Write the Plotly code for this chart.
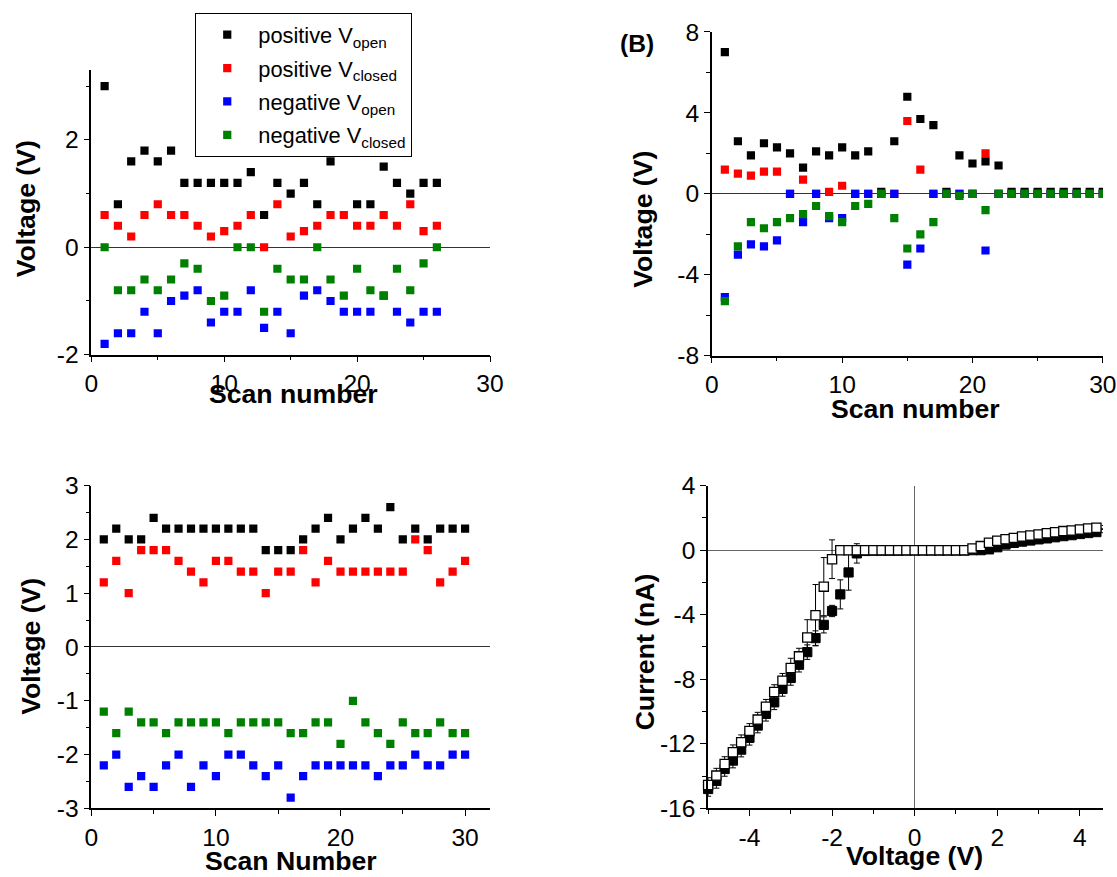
import plotly.graph_objects as go

# ---------------- data ----------------
scan_a = [1, 2, 3, 4, 5, 6, 7, 8, 9, 10, 11, 12, 13, 14, 15, 16, 17, 18, 19, 20, 21, 22, 23, 24, 25, 26]
a_pos_open = [3.0, 0.8, 1.6, 1.8, 1.6, 1.8, 1.2, 1.2, 1.2, 1.2, 1.2, 1.4, 0.6, 1.2, 1.0, 1.2, 0.8, 1.6, 1.8, 0.8, 0.8, 1.5, 1.2, 1.0, 1.2, 1.2]
a_pos_closed = [0.6, 0.4, 0.2, 0.6, 0.8, 0.6, 0.6, 0.4, 0.2, 0.3, 0.4, 0.6, 0.0, 0.8, 0.2, 0.3, 0.4, 0.6, 0.6, 0.4, 0.4, 0.6, 0.4, 0.8, 0.3, 0.4]
a_neg_open = [-1.8, -1.6, -1.6, -1.2, -1.6, -1.0, -0.9, -0.8, -1.4, -1.2, -1.2, -0.8, -1.5, -1.2, -1.6, -0.9, -0.8, -1.0, -1.2, -1.2, -1.2, -0.9, -1.2, -1.4, -1.2, -1.2]
a_neg_closed = [0.0, -0.8, -0.8, -0.6, -0.8, -0.6, -0.3, -0.4, -1.0, -0.9, 0.0, 0.0, -1.2, -0.4, -0.6, -0.6, 0.0, -0.6, -0.9, -0.4, -0.8, -0.9, -0.4, -0.8, -0.3, 0.0]

scan_b = [1, 2, 3, 4, 5, 6, 7, 8, 9, 10, 11, 12, 13, 14, 15, 16, 17, 18, 19, 20, 21, 22, 23, 24, 25, 26, 27, 28, 29, 30]
b_pos_open = [7.0, 2.6, 1.9, 2.5, 2.3, 2.0, 1.3, 2.1, 1.9, 2.3, 1.9, 2.1, 0.1, 2.6, 4.8, 3.7, 3.4, 0.1, 1.9, 1.5, 1.6, 1.4, 0.1, 0.1, 0.1, 0.1, 0.1, 0.1, 0.1, 0.1]
b_pos_closed = [1.2, 1.0, 0.9, 1.1, 1.1, 0.0, 0.7, 0.0, 0.1, 0.4, 0.0, 0.0, 0.0, 0.0, 3.6, 1.2, 0.0, 0.0, 0.0, 0.0, 2.0, 0.0, 0.0, 0.0, 0.0, 0.0, 0.0, 0.0, 0.0, 0.0]
b_neg_open = [-5.1, -3.0, -2.5, -2.6, -2.3, 0.0, -1.4, 0.0, -1.2, -1.2, 0.0, 0.0, 0.0, 0.0, -3.5, -2.7, 0.0, 0.0, 0.0, 0.0, -2.8, 0.0, 0.0, 0.0, 0.0, 0.0, 0.0, 0.0, 0.0, 0.0]
b_neg_closed = [-5.3, -2.6, -1.4, -1.7, -1.4, -1.2, -1.0, -0.6, -1.1, -1.4, -0.6, -0.5, 0.0, -1.2, -2.7, -2.0, -1.4, 0.0, -0.1, 0.0, -0.8, 0.0, 0.0, 0.0, 0.0, 0.0, 0.0, 0.0, 0.0, 0.0]

scan_c = [1, 2, 3, 4, 5, 6, 7, 8, 9, 10, 11, 12, 13, 14, 15, 16, 17, 18, 19, 20, 21, 22, 23, 24, 25, 26, 27, 28, 29, 30]
c_pos_open = [2.0, 2.2, 2.0, 2.0, 2.4, 2.2, 2.2, 2.2, 2.2, 2.2, 2.2, 2.2, 2.2, 1.8, 1.8, 1.8, 2.0, 2.2, 2.4, 2.0, 2.2, 2.4, 2.2, 2.6, 2.0, 2.2, 2.0, 2.2, 2.2, 2.2]
c_pos_closed = [1.2, 1.6, 1.0, 1.8, 1.8, 1.8, 1.6, 1.4, 1.2, 1.6, 1.6, 1.4, 1.4, 1.0, 1.4, 1.4, 1.8, 1.2, 1.6, 1.4, 1.4, 1.4, 1.4, 1.4, 1.4, 2.0, 1.8, 1.2, 1.4, 1.6]
c_neg_open = [-2.2, -2.0, -2.6, -2.4, -2.6, -2.2, -2.0, -2.6, -2.2, -2.4, -2.0, -2.0, -2.2, -2.4, -2.2, -2.8, -2.4, -2.2, -2.2, -2.2, -2.2, -2.2, -2.4, -2.2, -2.2, -2.0, -2.2, -2.2, -2.0, -2.0]
c_neg_closed = [-1.2, -1.6, -1.2, -1.4, -1.4, -1.6, -1.4, -1.4, -1.4, -1.4, -1.6, -1.4, -1.4, -1.4, -1.4, -1.6, -1.6, -1.4, -1.4, -1.8, -1.0, -1.4, -1.6, -1.8, -1.4, -1.6, -1.6, -1.4, -1.6, -1.6]

iv_voltage = [-5.0, -4.8, -4.6, -4.4, -4.2, -4.0, -3.8, -3.6, -3.4, -3.2, -3.0, -2.8, -2.6, -2.4, -2.2, -2.0, -1.8,
              -1.6, -1.4, -1.2, -1.0, -0.8, -0.6, -0.4, -0.2, 0.0, 0.2, 0.4, 0.6, 0.8, 1.0, 1.2, 1.4, 1.6, 1.8,
              2.0, 2.2, 2.4, 2.6, 2.8, 3.0, 3.2, 3.4, 3.6, 3.8, 4.0, 4.2, 4.4, 4.6, 4.8, 5.0]
iv_filled = [-14.8, -14.3, -13.56, -13.04, -12.36, -11.63, -10.87, -10.14, -9.43, -8.6, -7.92, -7.1, -6.32, -5.45, -4.63, -3.77, -2.74,
             -1.38, -0.2, -0.05, -0.03, -0.03, -0.03, -0.03, -0.02, -0.02, -0.02, -0.02, -0.02, -0.02, -0.02, -0.02, 0.0, 0.0, 0.05,
             0.18, 0.35, 0.45, 0.53, 0.6, 0.67, 0.73, 0.8, 0.87, 0.93, 1.0, 1.06, 1.12, 1.18, 1.25, 1.32]
iv_filled_err = [0.45, 0.45, 0.45, 0.45, 0.45, 0.45, 0.45, 0.45, 0.45, 0.45, 0.45, 0.45, 0.45, 0.45, 0.5, 0.35, 0.9,
                 1.1, 0.6, 0.15, 0.05, 0.05, 0.05, 0.05, 0.05, 0.05, 0.05, 0.05, 0.05, 0.05, 0.05, 0.05, 0.05, 0.05, 0.08,
                 0.1, 0.1, 0.1, 0.1, 0.1, 0.1, 0.1, 0.1, 0.1, 0.1, 0.1, 0.1, 0.1, 0.1, 0.1, 0.1]
iv_open = [-14.55, -13.97, -13.25, -12.52, -11.9, -11.2, -10.5, -9.7, -8.79, -8.09, -7.3, -6.58, -5.41, -4.03, -2.26, -0.56, 0.0,
           0.0, 0.0, 0.0, 0.0, 0.0, 0.0, 0.0, 0.0, 0.0, 0.0, 0.0, 0.0, 0.0, 0.0, 0.0, 0.1, 0.25, 0.46,
           0.58, 0.68, 0.76, 0.85, 0.91, 0.97, 1.05, 1.11, 1.18, 1.22, 1.28, 1.34, 1.39, 1.43, 1.47, 1.55]
iv_open_err = [0.45, 0.45, 0.45, 0.45, 0.45, 0.45, 0.45, 0.45, 0.45, 0.45, 0.6, 0.5, 1.1, 1.9, 1.8, 1.2, 0.1,
               0.1, 0.1, 0.05, 0.05, 0.05, 0.05, 0.05, 0.05, 0.05, 0.05, 0.05, 0.05, 0.05, 0.05, 0.05, 0.05, 0.1, 0.1,
               0.1, 0.1, 0.1, 0.1, 0.1, 0.1, 0.1, 0.1, 0.1, 0.1, 0.1, 0.1, 0.1, 0.1, 0.1, 0.1]

series_names = ["positive V<sub>open</sub>", "positive V<sub>closed</sub>",
                "negative V<sub>open</sub>", "negative V<sub>closed</sub>"]
series_colors = ["#000000", "#FF0000", "#0000FF", "#008000"]

# tick labels (hyphen minus as in the reference)
scan_ticks = [0, 10, 20, 30]
scan_minor = [0, 5, 10, 15, 20, 25, 30]
a_yticks = [-2, 0, 2]
a_yminor = [-2, -1, 0, 1, 2, 3]
b_yticks = [-8, -4, 0, 4, 8]
b_yminor = [-8, -6, -4, -2, 0, 2, 4, 6, 8]
c_yticks = [-3, -2, -1, 0, 1, 2, 3]
c_yminor = [-3, -2.5, -2, -1.5, -1, -0.5, 0, 0.5, 1, 1.5, 2, 2.5, 3]
iv_xticks = [-4, -2, 0, 2, 4]
iv_xminor = [-5, -4, -3, -2, -1, 0, 1, 2, 3, 4, 5]
iv_yticks = [-16, -12, -8, -4, 0, 4]
iv_yminor = [-16, -14, -12, -10, -8, -6, -4, -2, 0, 2, 4]

# ---------------- figure ----------------
W, H = 1117, 877
FONT = "Liberation Sans, Arial, sans-serif"
# the captured picture is the page slightly shrunk and shifted; pre-compensate
SX, OX = 0.982, 5.6
SY, OY = 0.970, 14.0
FS = 1.0 / 0.976  # font / marker size compensation

def page_x(r):
    return (r - OX) / SX

def page_y(r):
    return (r - OY) / SY

def px_x(r):
    return min(1.0, max(0.0, page_x(r) / W))

def px_y(r):
    return min(1.0, max(0.0, 1 - page_y(r) / H))

def txt(v):
    return "%g" % v

fig = go.Figure()

panels = [
    ("x", "y", scan_a, [a_pos_open, a_pos_closed, a_neg_open, a_neg_closed], True),
    ("x2", "y2", scan_b, [b_pos_open, b_pos_closed, b_neg_open, b_neg_closed], False),
    ("x3", "y3", scan_c, [c_pos_open, c_pos_closed, c_neg_open, c_neg_closed], False),
]
for xa, ya, xs, sets, show in panels:
    for i, (name, col, vals) in enumerate(zip(series_names, series_colors, sets)):
        fig.add_trace(go.Scatter(
            x=xs, y=vals, mode="markers", name=name, showlegend=show,
            legendgroup="g%d" % i,
            xaxis=xa, yaxis=ya,
            marker=dict(symbol="square", size=8 * FS, color=col, line=dict(width=0)),
        ))

fig.add_trace(go.Scatter(
    x=iv_voltage, y=iv_filled, mode="markers", showlegend=False, xaxis="x4", yaxis="y4",
    cliponaxis=False,
    marker=dict(symbol="square", size=9 * FS, color="black", line=dict(width=1, color="black")),
    error_y=dict(type="data", array=iv_filled_err, visible=True, color="black", thickness=1, width=3),
))
fig.add_trace(go.Scatter(
    x=iv_voltage, y=iv_open, mode="markers", showlegend=False, xaxis="x4", yaxis="y4",
    cliponaxis=False,
    marker=dict(symbol="square", size=9 * FS, color="white", line=dict(width=1.3, color="black")),
    error_y=dict(type="data", array=iv_open_err, visible=True, color="black", thickness=1, width=3),
))

tickfont = dict(family=FONT, size=24 * FS, color="black")

def axis(domain, rng, ticks, minor_ticks, anchor, zeroline=False, zcol="#333333"):
    return dict(
        domain=domain, range=rng, anchor=anchor, showgrid=False,
        showline=True, linecolor="black", linewidth=1.5, mirror=False,
        ticks="outside", ticklen=6, tickwidth=1.3, tickcolor="black",
        tickmode="array", tickvals=ticks, ticktext=[txt(v) for v in ticks],
        tickfont=tickfont,
        minor=dict(tickmode="array", tickvals=minor_ticks, ticks="outside", ticklen=4,
                   tickwidth=1.2, tickcolor="black", showgrid=False),
        zeroline=zeroline, zerolinecolor=zcol, zerolinewidth=1.4,
    )

# right-hand panels run to the page edge: extend the ranges accordingly
tr_x0, tr_x30 = page_x(711), page_x(1102.3)
tr_xmax = (W - tr_x0) / ((tr_x30 - tr_x0) / 30.0)
br_xm5, br_x0 = page_x(707.3), page_x(914)
br_xmax = (W - br_x0) / ((br_x0 - br_xm5) / 5.0)

fig.update_layout(
    width=W, height=H,
    margin=dict(l=0, r=0, t=0, b=0),
    paper_bgcolor="white", plot_bgcolor="white",
    font=dict(family=FONT, color="black"),
    xaxis=axis([px_x(90), px_x(489)], [0, 30], scan_ticks, scan_minor, "y"),
    yaxis=axis([px_y(356), px_y(71)], [-2, 3.3], a_yticks, a_yminor, "x", zeroline=True),
    xaxis2=axis([px_x(711), 1.0], [0, tr_xmax], scan_ticks, scan_minor, "y2"),
    yaxis2=axis([px_y(357), px_y(33)], [-8, 8], b_yticks, b_yminor, "x2", zeroline=True),
    xaxis3=axis([px_x(90), px_x(489)], [0, 32], scan_ticks, scan_minor, "y3"),
    yaxis3=axis([px_y(810), px_y(487)], [-3, 3], c_yticks, c_yminor, "x3", zeroline=True),
    xaxis4=axis([px_x(707.3), 1.0], [-5, br_xmax], iv_xticks, iv_xminor, "y4", zeroline=True, zcol="#666666"),
    yaxis4=axis([px_y(810), px_y(487)], [-16, 4], iv_yticks, iv_yminor, "x4", zeroline=True, zcol="#666666"),
    legend=dict(
        x=px_x(194), y=px_y(9), xanchor="left", yanchor="top",
        bordercolor="black", borderwidth=1, bgcolor="white",
        font=dict(family=FONT, size=21.3 * FS, color="black"),
        itemwidth=52, tracegroupgap=2,
    ),
)

def label(text, x, y, angle=0, size=26):
    fig.add_annotation(
        text="<b>" + text + "</b>", x=px_x(x), y=px_y(y), xref="paper", yref="paper",
        xanchor="center", yanchor="middle", showarrow=False, textangle=angle,
        font=dict(family=FONT, size=size * FS, color="black"),
    )

label("Scan number", 292, 395)
label("Voltage (V)", 24, 210, -90)
label("Scan number", 915, 410)
label("Voltage (V)", 642, 220, -90)
label("Scan Number", 290, 863)
label("Voltage (V)", 30, 648, -90)
label("Voltage (V)", 914, 858)
label("Current (nA)", 645, 653, -90)
label("(B)", 636, 45, 0, 24)

fig.write_html("out.html", config={"displayModeBar": False},
               post_script="document.body.style.margin='0';document.body.style.overflow='hidden';")
